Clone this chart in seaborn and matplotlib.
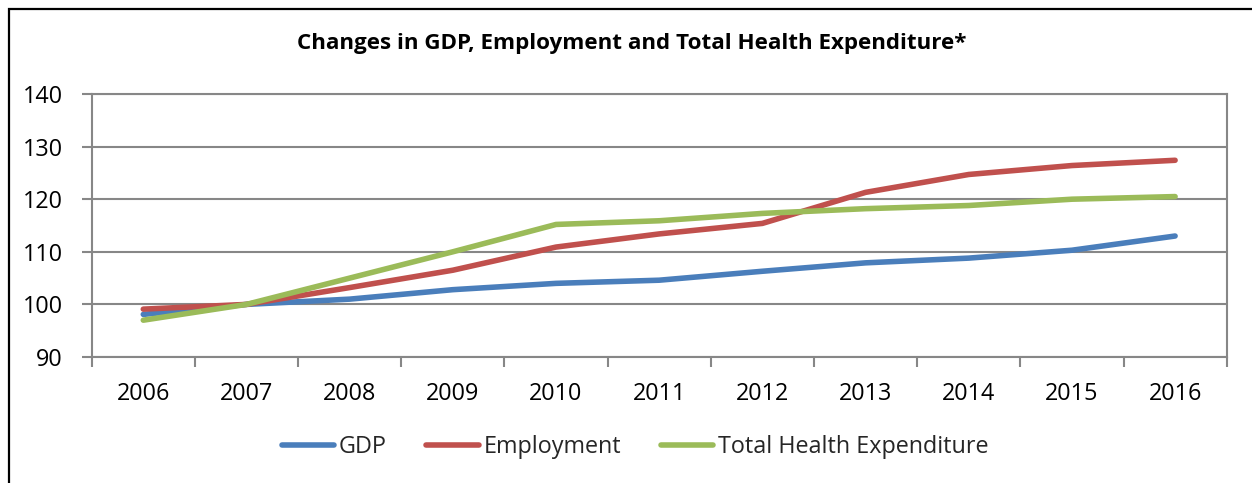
import matplotlib
matplotlib.use("Agg")
import matplotlib.pyplot as plt
from matplotlib.lines import Line2D
from matplotlib.patches import Rectangle
from matplotlib.ticker import FixedLocator
import numpy as np
import pandas as pd
import seaborn as sns

years = ["2006", "2007", "2008", "2009", "2010", "2011", "2012", "2013", "2014", "2015", "2016"]
gdp = [98.1, 100.0, 101.0, 102.8, 104.0, 104.6, 106.3, 107.9, 108.8, 110.3, 113.0]
employment = [99.1, 100.0, 103.2, 106.5, 110.9, 113.4, 115.4, 121.3, 124.7, 126.4, 127.4]
health = [97.0, 100.0, 105.0, 110.0, 115.2, 115.9, 117.3, 118.2, 118.8, 120.0, 120.5]
series_names = ["GDP", "Employment", "Total Health Expenditure"]
colors = ["#4A7EBB", "#C0504D", "#9BBB59"]
y_ticks = [90, 100, 110, 120, 130, 140]

sns.set_theme(style="white")
plt.rcParams["font.family"] = ["Open Sans", "DejaVu Sans"]

rows = []
for name, vals in zip(series_names, [gdp, employment, health]):
    for i, v in enumerate(vals):
        rows.append({"pos": i, "year": years[i], "series": name, "value": v})
df = pd.DataFrame(rows)

W, H = 1252, 483
fig = plt.figure(figsize=(W / 100, H / 100), dpi=100)
fig.patch.set_facecolor("white")
ax = fig.add_axes([91.7 / W, 1 - 357 / H, (1226.7 - 91.7) / W, (357 - 94) / H])

grid_col = "#878787"
sns.lineplot(data=df, x="pos", y="value", hue="series", hue_order=series_names,
             palette=colors, linewidth=4.0, ax=ax, legend=False, sort=False,
             solid_capstyle="round", solid_joinstyle="round", zorder=3)

ax.set_xlim(-0.5, len(years) - 0.5)
ax.set_ylim(90, 140)
ax.set_xlabel("")
ax.set_ylabel("")

# Category labels sit between boundary ticks
ax.set_xticks(range(len(years)))
ax.set_xticklabels(years)
ax.xaxis.set_minor_locator(FixedLocator(np.arange(-0.5, len(years), 1.0)))
ax.tick_params(axis="x", which="major", length=0, pad=18, labelsize=16.8, colors="black")
ax.tick_params(axis="x", which="minor", length=7, width=1.5, color=grid_col, direction="out", bottom=True)
ax.set_yticks(y_ticks)
ax.tick_params(axis="y", which="major", length=7, width=1.5, color=grid_col, direction="out",
               pad=14, labelsize=16.8, labelcolor="black", left=True)

ax.grid(axis="y", color=grid_col, linewidth=1.5, zorder=1)
ax.grid(axis="x", visible=False)
for side in ["left", "right", "bottom", "top"]:
    ax.spines[side].set_color(grid_col)
    ax.spines[side].set_linewidth(1.5)
    ax.spines[side].set_visible(True)

fig.text(632 / W, 1 - 43 / H, "Changes in GDP, Employment and Total Health Expenditure*",
         ha="center", va="center", fontsize=16.1, fontweight="bold", color="black")

handles = [Line2D([0], [0], color=c, linewidth=4.0, solid_capstyle="round") for c in colors]
fig.legend(handles, series_names, loc="center", bbox_to_anchor=(635 / W, 1 - 447 / H),
           ncol=3, frameon=False, fontsize=16.8, handlelength=2.25, handletextpad=0.2,
           columnspacing=1.7)

# Outer frame around the chart
fig.patches.append(Rectangle((9 / W, -0.2), 1.5, 1.2 - 9 / H, transform=fig.transFigure,
                             fill=False, edgecolor="black", linewidth=1.6, figure=fig))

fig.savefig("out.png", dpi=100, facecolor="white")
